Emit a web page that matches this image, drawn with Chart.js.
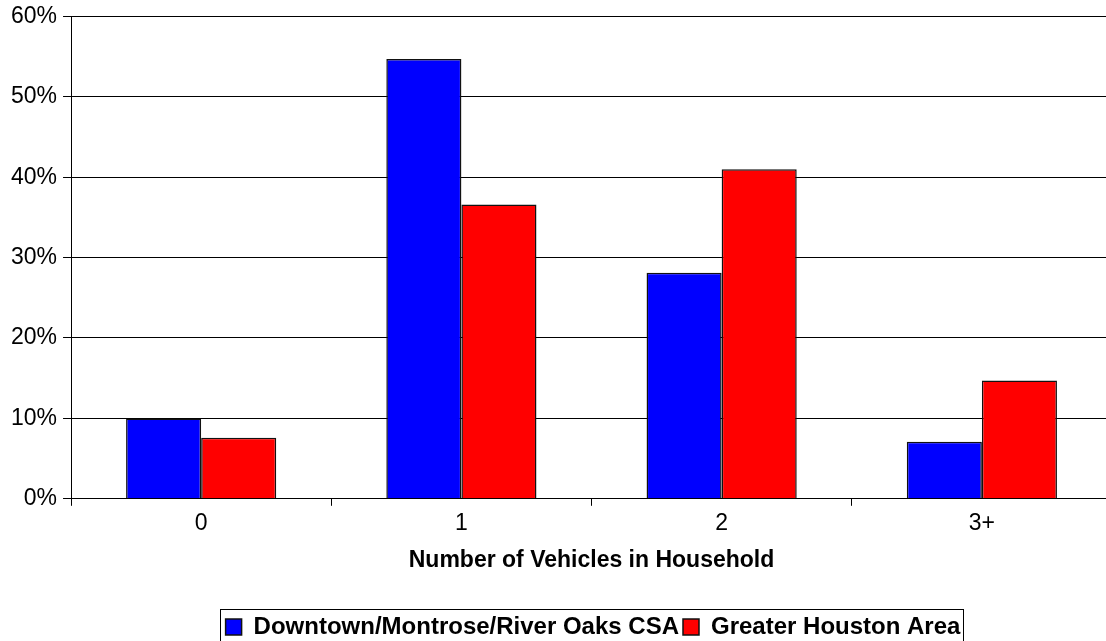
<!DOCTYPE html>
<html>
<head>
<meta charset="utf-8">
<script src="https://cdn.jsdelivr.net/npm/chart.js@4/dist/chart.umd.min.js"></script>
<style>
  html, body { margin: 0; padding: 0; background: #fff; overflow: hidden; }
  #wrap { width: 1181px; height: 649px; position: relative; }
</style>
</head>
<body>
<div id="wrap"><canvas id="vehChart"></canvas></div>
<script>
// data (percent of households)
const vehicleLabels = ["0", "1", "2", "3+"];
const downtownValues = [10.0, 54.7, 28.1, 7.1];
const houstonValues = [7.6, 36.6, 41.0, 14.7];
const seriesNames = ["Downtown/Montrose/River Oaks CSA", "Greater Houston Area"];

const fontFamily = "'Liberation Sans', Arial, sans-serif";

// draws the thin frame around the legend like the original
const legendFrame = {
  id: "legendFrame",
  afterDraw(chart) {
    const boxes = chart.legend && chart.legend.legendHitBoxes;
    if (!boxes || !boxes.length) return;
    let left = Infinity, right = -Infinity, top = Infinity, bottom = -Infinity;
    boxes.forEach((b) => {
      left = Math.min(left, b.left);
      right = Math.max(right, b.left + b.width);
      top = Math.min(top, b.top);
      bottom = Math.max(bottom, b.top + b.height);
    });
    const mid = (top + bottom) / 2;
    const ctx = chart.ctx;
    ctx.save();
    ctx.strokeStyle = "#000";
    ctx.lineWidth = 1;
    ctx.strokeRect(Math.round(left - 6) + 0.5, Math.round(mid - 18) + 0.5, Math.round(right - left + 8), 36);
    ctx.restore();
  },
};

new Chart(document.getElementById("vehChart"), {
  type: "bar",
  data: {
    labels: vehicleLabels,
    datasets: [
      {
        label: seriesNames[0],
        data: downtownValues,
        backgroundColor: "#0000FF",
        borderColor: "#111",
        borderWidth: 1.5,
      },
      {
        label: seriesNames[1],
        data: houstonValues,
        backgroundColor: "#FF0000",
        borderColor: "#111",
        borderWidth: 1.5,
      },
    ],
  },
  options: {
    responsive: true,
    maintainAspectRatio: false,
    animation: false,
    events: [],
    layout: { padding: { top: 0, left: 5, right: 0, bottom: 0 } },
    datasets: {
      bar: { categoryPercentage: 0.577, barPercentage: 1.0 },
    },
    scales: {
      x: {
        grid: {
          offset: true,
          drawOnChartArea: false,
          drawTicks: true,
          tickLength: 7,
          color: "#000",
        },
        border: { display: true, color: "#000" },
        ticks: {
          color: "#000",
          padding: 4,
          font: { family: fontFamily, size: 23 },
        },
        title: {
          display: true,
          text: "Number of Vehicles in Household",
          color: "#000",
          font: { family: fontFamily, size: 23, weight: "bold" },
          padding: { top: 5, bottom: 37 },
        },
      },
      y: {
        min: 0,
        max: 60,
        grid: { color: "#000", tickLength: 8 },
        border: { display: true, color: "#000" },
        ticks: {
          stepSize: 10,
          color: "#000",
          padding: 6,
          font: { family: fontFamily, size: 23, lineHeight: 0.9 },
          callback: (v) => v + "%",
        },
      },
      // empty axis on the right: keeps the plot/legend offsets of the original
      pad: {
        position: "right",
        display: true,
        grid: { display: false },
        border: { display: false },
        ticks: { display: false },
        afterFit(scale) {
          scale.width = 69;
        },
      },
    },
    plugins: {
      legend: {
        position: "bottom",
        labels: {
          color: "#000",
          boxWidth: 16,
          boxHeight: 16,
          padding: 4,
          font: { family: fontFamily, size: 24, weight: "bold" },
        },
      },
      tooltip: { enabled: false },
    },
  },
  plugins: [legendFrame],
});
</script>
</body>
</html>
